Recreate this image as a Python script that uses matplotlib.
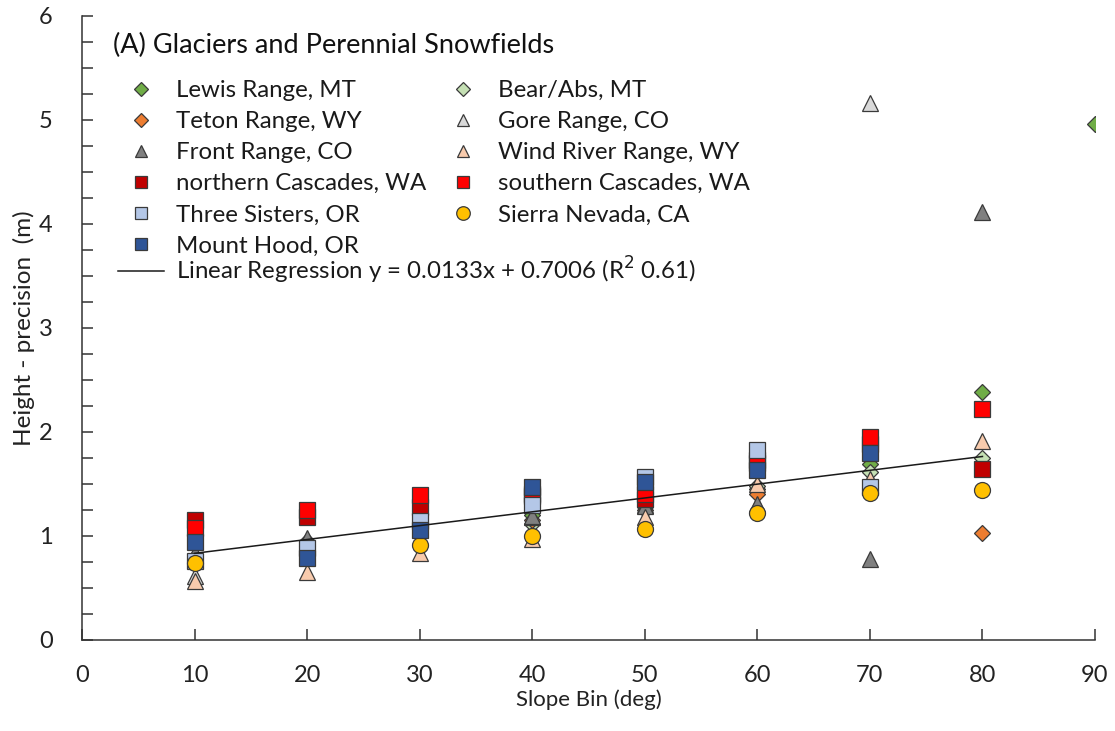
import numpy as np
import matplotlib
matplotlib.use("Agg")
import matplotlib.pyplot as plt
from matplotlib.lines import Line2D
from matplotlib.ticker import MultipleLocator

plt.rcParams['font.family'] = ['Lato', 'DejaVu Sans']

# Slope bins (deg)
slope_bins = [10, 20, 30, 40, 50, 60, 70, 80, 90]
nan = np.nan

# Height precision (m) per region and slope bin
lewis_range      = [0.80, 0.95, 1.22, 1.20, 1.30, 1.45, 1.69, 2.38, 4.96]
bear_abs         = [0.78, 0.92, 1.20, 1.12, 1.28, 1.48, 1.62, 1.75, nan]
teton_range      = [0.76, 0.85, 1.15, 1.15, 1.25, 1.40, nan, 1.03, nan]
gore_range       = [0.62, 0.90, 1.20, 1.18, 1.30, 1.30, 5.16, nan, nan]
front_range      = [0.84, 0.98, 1.22, 1.19, 1.29, 1.31, 0.78, 4.12, nan]
wind_river       = [0.57, 0.65, 0.84, 0.97, 1.18, 1.50, 1.55, 1.91, nan]
north_cascades   = [1.15, 1.18, 1.28, 1.38, 1.36, 1.70, 1.88, 1.64, nan]
south_cascades   = [1.08, 1.25, 1.39, 1.40, 1.40, 1.73, 1.95, 2.22, nan]
three_sisters    = [0.76, 0.88, 1.14, 1.30, 1.57, 1.83, 1.47, nan, nan]
sierra_nevada    = [0.74, nan, 0.91, 1.00, 1.07, 1.22, 1.41, 1.44, nan]
mount_hood       = [0.94, 0.79, 1.06, 1.47, 1.52, 1.63, 1.80, nan, nan]

# Regression coefficients
slope_coef = 0.0133
intercept = 0.7006
reg_x = [10, 80]

series = [
    ("Lewis Range, MT",        lewis_range,    "D", "#70AD47", 8.5),
    ("Bear/Abs, MT",           bear_abs,       "D", "#C5E0B4", 8.5),
    ("Teton Range, WY",        teton_range,    "D", "#ED7D31", 8.5),
    ("Gore Range, CO",         gore_range,     "^", "#D9D9D9", 11),
    ("Front Range, CO",        front_range,    "^", "#808080", 11),
    ("Wind River Range, WY",   wind_river,     "^", "#F8CBAD", 11),
    ("northern Cascades, WA",  north_cascades, "s", "#C00000", 11),
    ("southern Cascades, WA",  south_cascades, "s", "#FF0000", 11),
    ("Three Sisters, OR",      three_sisters,  "s", "#B4C7E7", 11),
    ("Sierra Nevada, CA",      sierra_nevada,  "o", "#FFC000", 11.5),
    ("Mount Hood, OR",         mount_hood,     "s", "#2F5597", 11),
]

fig = plt.figure(figsize=(11.15, 7.31), dpi=100)
ax = fig.add_axes([82/1115, 1-640/731, (1095-82)/1115, (640-16)/731])

handles = {}
for i, (name, vals, mk, col, ms) in enumerate(series):
    h, = ax.plot(slope_bins, vals, linestyle="none", marker=mk, markersize=ms,
                 markerfacecolor=col, markeredgecolor="#3a3a3a",
                 markeredgewidth=0.9, label=name, zorder=3 + i)
    handles[name] = h

reg_y = [slope_coef * x + intercept for x in reg_x]
reg_line, = ax.plot(reg_x, reg_y, color="#1a1a1a", linewidth=1.1, zorder=20)

ax.set_xlim(0, 90)
ax.set_ylim(0, 6)
ax.xaxis.set_major_locator(MultipleLocator(10))
ax.yaxis.set_major_locator(MultipleLocator(1))
ax.yaxis.set_minor_locator(MultipleLocator(0.25))
ax.tick_params(axis="both", which="both", direction="in", length=8,
               width=1.1, color="#333333", labelsize=17, labelcolor="#222222",
               pad=18)
ax.tick_params(axis="y", pad=21)
ax.tick_params(axis="x", which="minor", length=0)
for side in ("top", "right"):
    ax.spines[side].set_visible(False)
for side in ("left", "bottom"):
    ax.spines[side].set_color("#333333")
    ax.spines[side].set_linewidth(1.1)

ax.set_xlabel("Slope Bin (deg)", fontsize=16, color="#222222", labelpad=2.5)
ax.set_ylabel("Height - precision  (m)", fontsize=17.5, color="#222222", labelpad=3)

fig.text(113/1115, 1-45/731, "(A) Glaciers and Perennial Snowfields",
         fontsize=19.5, color="#111111", va="center", ha="left")

reg_label = "Linear Regression y = 0.0133x + 0.7006 (R$^{2}$ 0.61)"
col1 = ["Lewis Range, MT", "Teton Range, WY", "Front Range, CO",
        "northern Cascades, WA", "Three Sisters, OR", "Mount Hood, OR"]
col2 = ["Bear/Abs, MT", "Gore Range, CO", "Wind River Range, WY",
        "southern Cascades, WA", "Sierra Nevada, CA"]

leg_kw = dict(frameon=False, fontsize=17.3, handlelength=1.9, handletextpad=0.5,
              labelspacing=0.42, borderpad=0, borderaxespad=0,
              loc="upper left", bbox_transform=fig.transFigure,
              labelcolor="#1a1a1a")

def small(h):
    return Line2D([], [], linestyle="none", marker=h.get_marker(),
                  markersize=h.get_markersize() * 0.85,
                  markerfacecolor=h.get_markerfacecolor(),
                  markeredgecolor=h.get_markeredgecolor(),
                  markeredgewidth=0.9)

leg1 = ax.legend([small(handles[n]) for n in col1], col1,
                 bbox_to_anchor=(118/1115, 1-80/731), **leg_kw)
ax.add_artist(leg1)
leg2 = ax.legend([small(handles[n]) for n in col2], col2,
                 bbox_to_anchor=(440/1115, 1-80/731), **leg_kw)
ax.add_artist(leg2)
ax.legend([reg_line], [reg_label], bbox_to_anchor=(118/1115, 1-255/731), **leg_kw)

fig.savefig("out.png", dpi=100)
